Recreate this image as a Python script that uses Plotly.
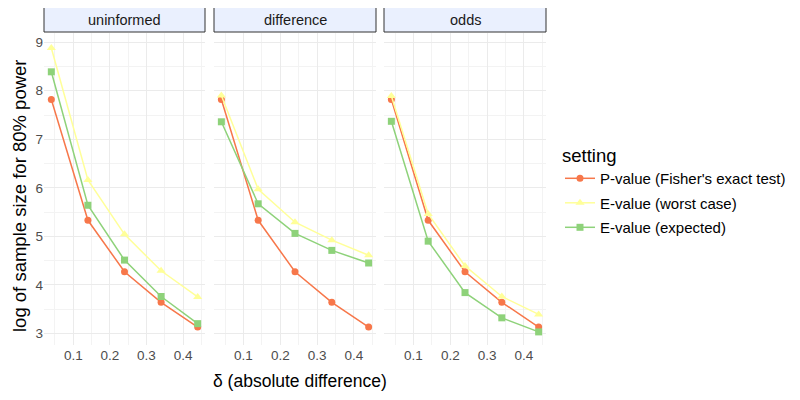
import plotly.graph_objects as go
from plotly.subplots import make_subplots

# datos
delta = [0.04, 0.14, 0.24, 0.34, 0.44]
paneles = ["uninformed", "difference", "odds"]
series = ["P-value (Fisher's exact test)", "E-value (worst case)", "E-value (expected)"]

p_fisher = {
    "uninformed": [7.82, 5.33, 4.27, 3.64, 3.13],
    "difference": [7.82, 5.33, 4.27, 3.64, 3.13],
    "odds": [7.82, 5.33, 4.27, 3.64, 3.13],
}
e_worst = {
    "uninformed": [8.88, 6.16, 5.04, 4.29, 3.75],
    "difference": [7.90, 5.97, 5.29, 4.92, 4.61],
    "odds": [7.89, 5.46, 4.39, 3.76, 3.39],
}
e_expected = {
    "uninformed": [8.39, 5.64, 4.51, 3.76, 3.20],
    "difference": [7.36, 5.67, 5.06, 4.71, 4.45],
    "odds": [7.37, 4.90, 3.84, 3.32, 3.03],
}

colores = ["#F7774A", "#FFFF99", "#8ED27A"]
simbolos = ["circle", "triangle-up", "square"]
tamanos = [7, 8, 7]
datos = [p_fisher, e_worst, e_expected]

W, H = 800, 400
OFF = 8  # margen del body de la pagina


def px(x):
    return (x - OFF) / W


def py(y):
    return 1 - (y - OFF) / H


fig = make_subplots(rows=1, cols=3, shared_yaxes=True)

for i, panel in enumerate(paneles):
    for j, nombre in enumerate(series):
        fig.add_trace(
            go.Scatter(
                x=delta,
                y=datos[j][panel],
                mode="lines+markers",
                name=nombre,
                legendgroup=nombre,
                showlegend=(i == 0),
                line=dict(color=colores[j], width=1.5),
                marker=dict(color=colores[j], symbol=simbolos[j], size=tamanos[j]),
            ),
            row=1, col=i + 1,
        )

# posiciones de los paneles en pixeles de la captura
x_px = [(44, 205), (214, 376), (384, 546)]
y_dom = [py(345), py(33)]

for i, (a, b) in enumerate(x_px):
    eje = "xaxis" if i == 0 else f"xaxis{i + 1}"
    fig.layout[eje].update(
        domain=[px(a), px(b)],
        range=[0.02, 0.46],
        tickvals=[0.1, 0.2, 0.3, 0.4],
        ticktext=["0.1", "0.2", "0.3", "0.4"],
        showgrid=True,
        gridcolor="#EBEBEB",
        gridwidth=1.1,
        minor=dict(tickvals=[0.05, 0.15, 0.25, 0.35, 0.45], showgrid=True,
                   gridcolor="#F3F3F3", gridwidth=0.6),
        zeroline=False,
        showline=False,
        ticks="",
        automargin=False,
        tickfont=dict(size=13.5, color="#4D4D4D"),
    )
    # tira del panel
    fig.add_shape(
        type="rect", xref="paper", yref="paper",
        x0=px(a), x1=px(b), y0=py(32), y1=py(7),
        fillcolor="#EAF0FE", line=dict(color="#333333", width=1),
    )
    fig.add_annotation(
        x=px((a + b) / 2), y=py(19.5), xref="paper", yref="paper",
        xanchor="center", yanchor="middle",
        text=paneles[i], showarrow=False,
        font=dict(size=14.5, color="#1A1A1A"),
    )

for i in range(3):
    eje = "yaxis" if i == 0 else f"yaxis{i + 1}"
    fig.layout[eje].update(
        domain=y_dom,
        range=[2.76, 9.19],
        tickvals=[3, 4, 5, 6, 7, 8, 9],
        showgrid=True,
        gridcolor="#EBEBEB",
        gridwidth=1.1,
        minor=dict(tickvals=[3.5, 4.5, 5.5, 6.5, 7.5, 8.5], showgrid=True,
                   gridcolor="#F3F3F3", gridwidth=0.6),
        zeroline=False,
        showline=False,
        ticks="",
        automargin=False,
        showticklabels=(i == 0),
        tickfont=dict(size=13.5, color="#4D4D4D"),
    )

fig.add_annotation(
    x=px(300), y=py(381), xref="paper", yref="paper",
    xanchor="center", yanchor="middle",
    text="δ (absolute difference)", showarrow=False,
    font=dict(size=17.5, color="#000000"),
)
fig.add_annotation(
    x=px(19), y=py(196), xref="paper", yref="paper",
    xanchor="center", yanchor="middle",
    text="log of sample size for 80% power", showarrow=False, textangle=-90,
    font=dict(size=18.5, color="#000000"),
)

fig.update_layout(
    width=W,
    height=H,
    margin=dict(l=0, r=0, t=0, b=0),
    plot_bgcolor="white",
    paper_bgcolor="white",
    font=dict(family="Liberation Sans, Arial", size=14),
    legend=dict(
        x=px(560), y=py(138), xanchor="left", yanchor="top",
        title=dict(text="setting", font=dict(size=18.5, color="#000000")),
        font=dict(size=15, color="#000000"),
        tracegroupgap=2,
        itemwidth=30,
    ),
)

fig.write_html("out.html")
